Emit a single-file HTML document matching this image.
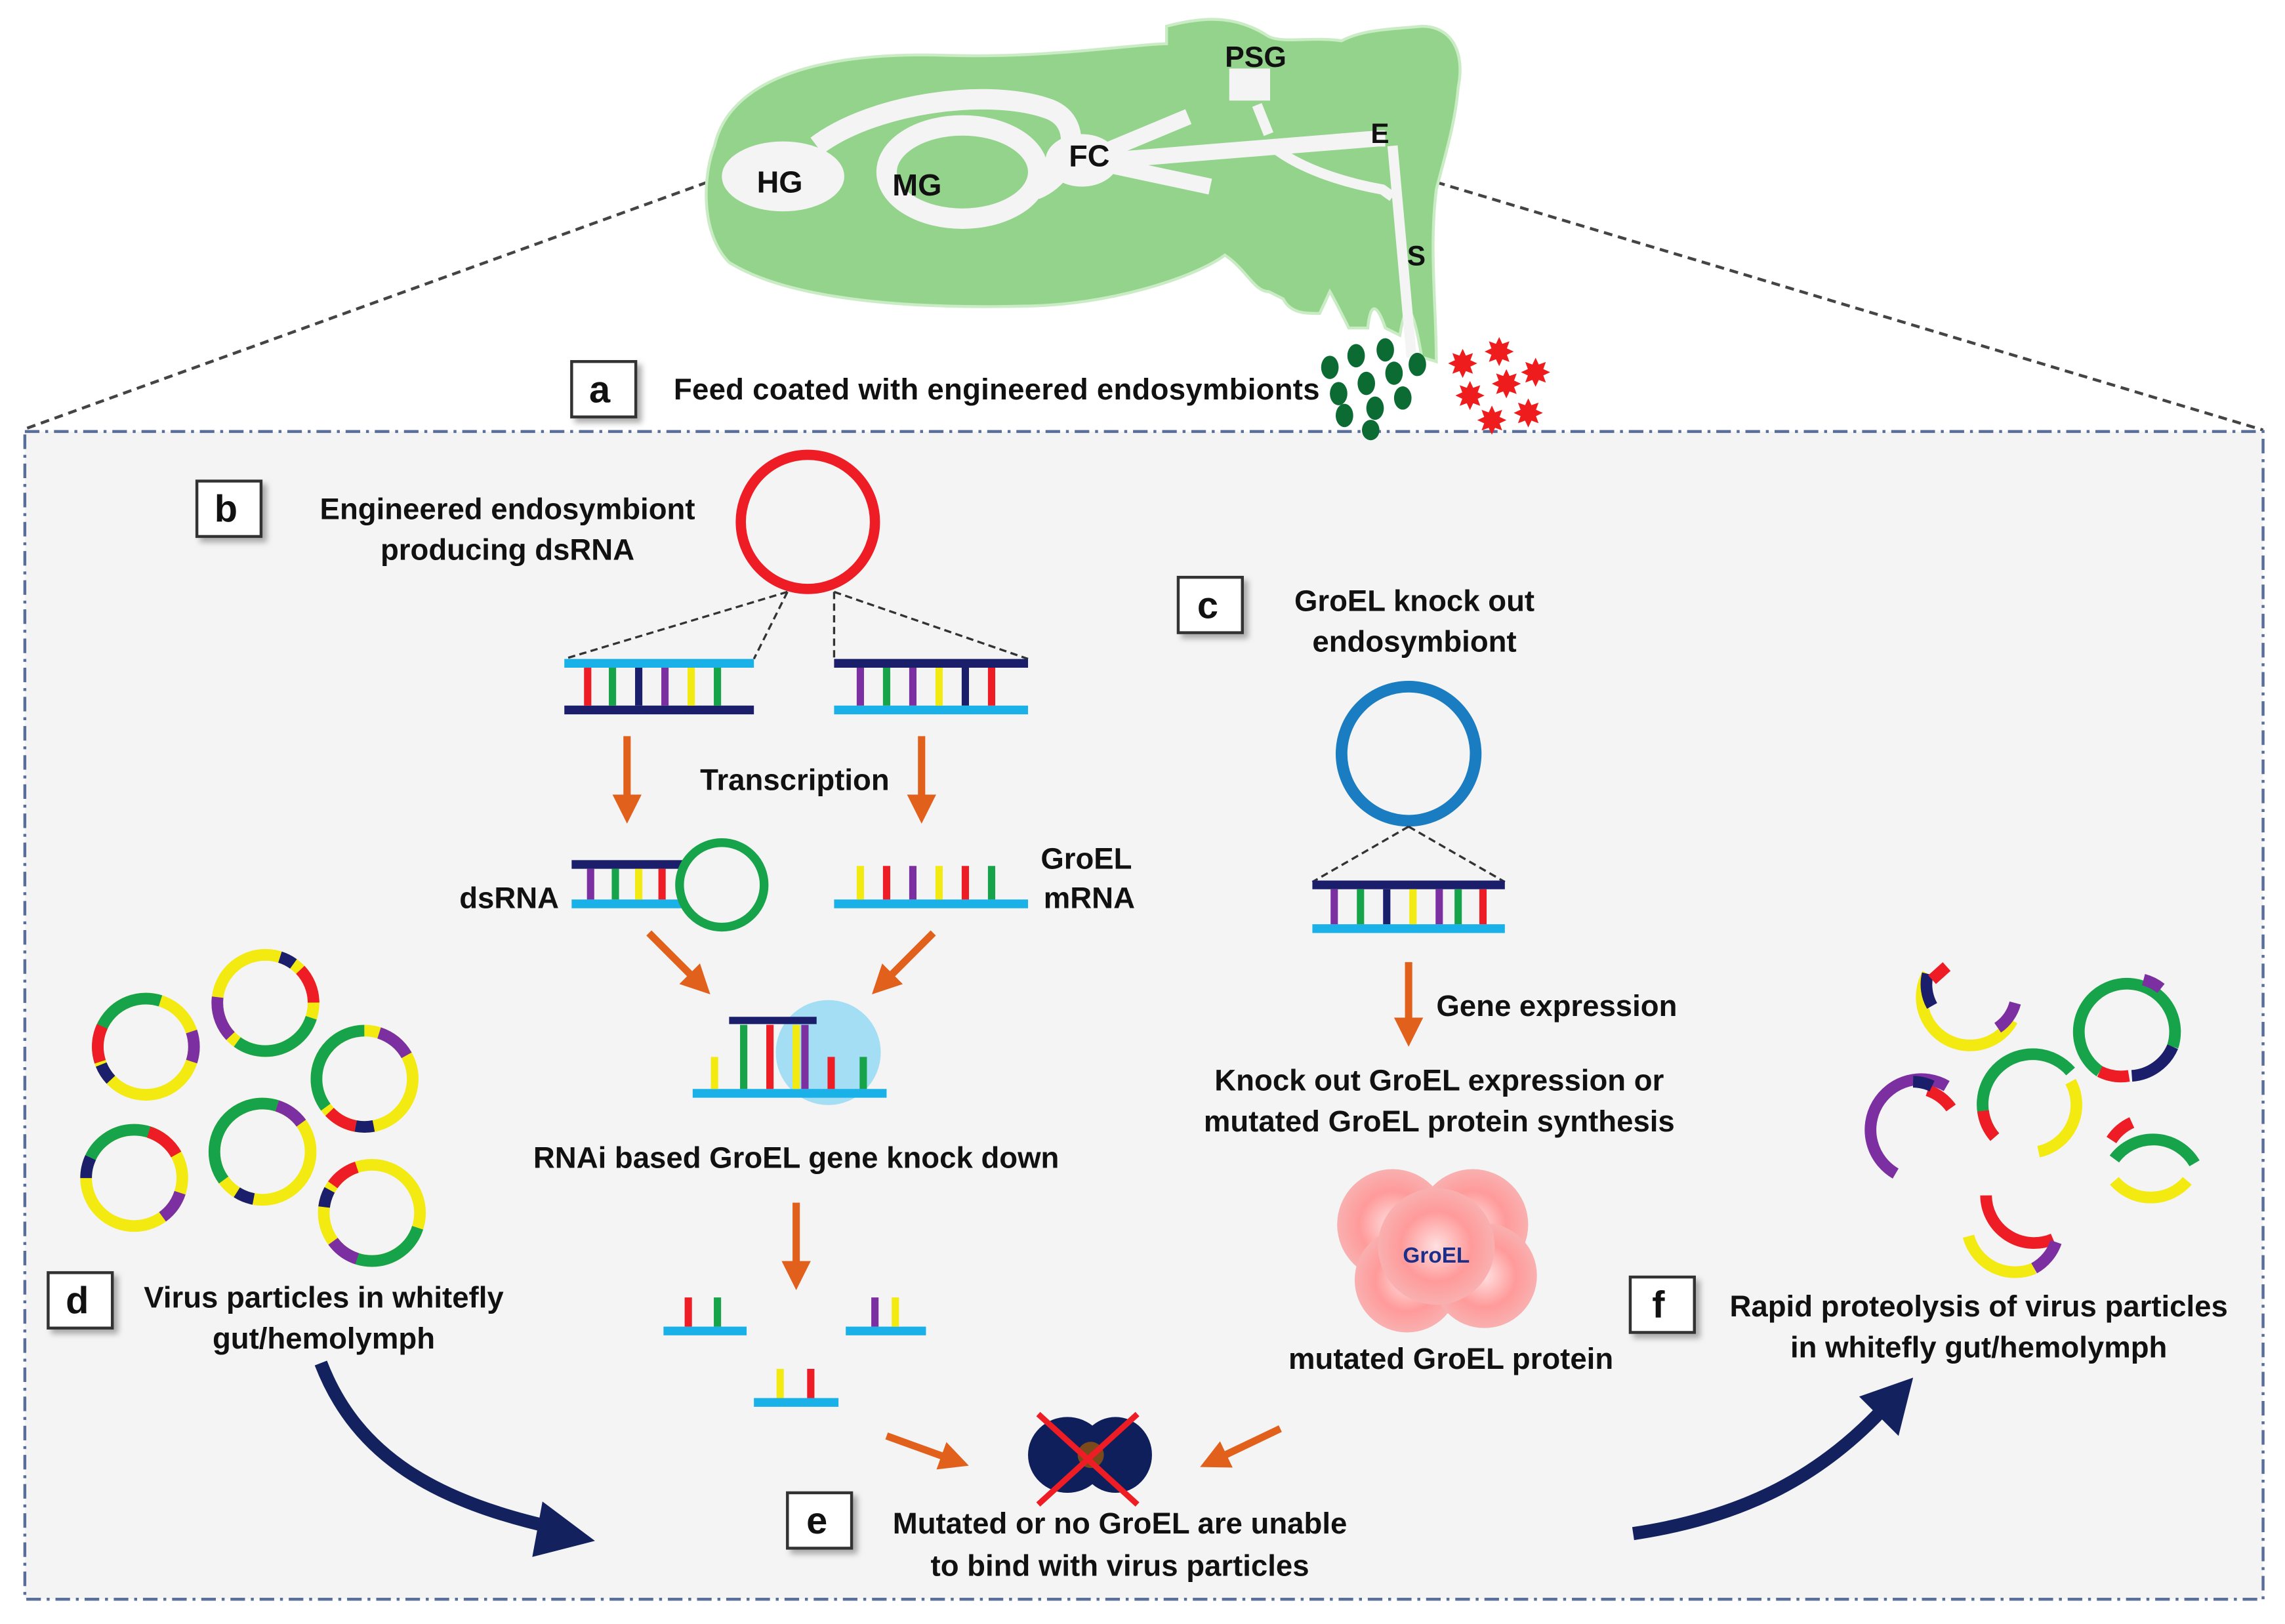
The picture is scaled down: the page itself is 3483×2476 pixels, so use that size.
<!DOCTYPE html>
<html><head><meta charset="utf-8"><style>
html,body{margin:0;padding:0;background:#fff}
svg{display:block}
text{font-family:"Liberation Sans",sans-serif;font-weight:bold;fill:#111}
</style></head><body>
<svg width="3483" height="2476" viewBox="0 0 1567 1114" xmlns="http://www.w3.org/2000/svg">
<defs>
<marker id="oa" markerWidth="4" markerHeight="4" refX="2" refY="2" orient="auto" markerUnits="strokeWidth"><path d="M0,0 L4,2 L0,4 z" fill="#e0601c"/></marker>
<filter id="sh" x="-20%" y="-20%" width="150%" height="150%"><feDropShadow dx="3" dy="3" stdDeviation="2" flood-color="#888" flood-opacity="0.7"/></filter>
<radialGradient id="pk" cx="50%" cy="50%" r="50%"><stop offset="0" stop-color="#ffe0e0"/><stop offset="0.6" stop-color="#ff9a9a"/><stop offset="1" stop-color="#f9b0b0"/></radialGradient>
</defs>
<rect width="1567" height="1114" fill="#fff"/>
<line x1="485" y1="125" x2="15" y2="295" stroke="#444" stroke-width="2" stroke-dasharray="6 4"/>
<line x1="985" y1="125" x2="1552" y2="295" stroke="#444" stroke-width="2" stroke-dasharray="6 4"/>
<rect x="17" y="296" width="1535" height="801" fill="#f4f4f4" stroke="#5a6e9a" stroke-width="2" stroke-dasharray="10 4 2 4"/>
<g>
<path d="M490,100 C500,55 560,35 650,38 C720,40 780,30 800,30 L800,18 C830,10 850,12 870,25 C880,30 900,25 920,28 C935,20 955,20 975,18 C995,18 1005,35 1000,60 C998,85 990,110 985,130 C980,170 985,210 985,248 L975,245 C970,215 965,200 960,230 L950,225 C945,210 940,205 938,225 L925,225 C920,215 915,205 912,200 L905,215 C895,215 885,215 880,205 L870,200 C860,200 855,185 840,175 C820,190 760,210 700,210 C620,212 540,205 500,180 C480,160 482,120 490,100 Z" fill="#93d38b" stroke="#c9ecc4" stroke-width="2"/>
<ellipse cx="537" cy="121" rx="42" ry="24" fill="#f4f4f4"/>
<path d="M560,100 C600,70 680,60 720,75 C745,85 735,120 710,130" fill="none" stroke="#f4f4f4" stroke-width="14"/>
<ellipse cx="660" cy="118" rx="52" ry="32" fill="none" stroke="#f4f4f4" stroke-width="14"/>
<ellipse cx="742" cy="110" rx="25" ry="18" fill="#f4f4f4"/>
<path d="M755,105 L815,80 M755,112 L830,128 M760,110 C820,105 880,100 945,95 L950,95" fill="none" stroke="#f4f4f4" stroke-width="11"/>
<path d="M872,100 C890,115 920,125 948,130 L955,135 M862,72 L870,92 M955,100 L968,245" fill="none" stroke="#f4f4f4" stroke-width="7"/>
<rect x="843" y="47" width="28" height="22" fill="#f4f4f4"/>
<text x="519" y="132" font-size="21">HG</text>
<text x="612" y="134" font-size="21">MG</text>
<text x="733" y="114" font-size="21">FC</text>
<text x="840" y="46" font-size="20">PSG</text>
<text x="940" y="98" font-size="19">E</text>
<text x="965" y="182" font-size="19">S</text>
</g>
<g fill="#0c6b33">
<ellipse cx="912" cy="252" rx="6" ry="8"/><ellipse cx="930" cy="244" rx="6" ry="8"/><ellipse cx="950" cy="240" rx="6" ry="8"/>
<ellipse cx="918" cy="270" rx="6" ry="8"/><ellipse cx="937" cy="263" rx="6" ry="8"/><ellipse cx="956" cy="256" rx="6" ry="8"/><ellipse cx="972" cy="250" rx="6" ry="8"/>
<ellipse cx="922" cy="285" rx="6" ry="8"/><ellipse cx="943" cy="280" rx="6" ry="8"/><ellipse cx="962" cy="273" rx="6" ry="8"/>
<ellipse cx="940" cy="295" rx="6" ry="7"/>
</g>
<g font-size="24">
<text x="993" y="258" style="fill:#ee1c1c">✸</text><text x="1018" y="250" style="fill:#ee1c1c">✸</text>
<text x="998" y="280" style="fill:#ee1c1c">✸</text><text x="1023" y="272" style="fill:#ee1c1c">✸</text><text x="1043" y="264" style="fill:#ee1c1c">✸</text>
<text x="1013" y="297" style="fill:#ee1c1c">✸</text><text x="1038" y="292" style="fill:#ee1c1c">✸</text>
</g>
<g font-size="26">
<rect x="392" y="248" width="44" height="38" fill="#fff" stroke="#333" stroke-width="2" filter="url(#sh)"/><text x="404" y="276">a</text>
<rect x="135" y="330" width="44" height="38" fill="#fff" stroke="#333" stroke-width="2" filter="url(#sh)"/><text x="147" y="358">b</text>
<rect x="808" y="396" width="44" height="38" fill="#fff" stroke="#333" stroke-width="2" filter="url(#sh)"/><text x="821" y="424">c</text>
<rect x="33" y="873" width="44" height="38" fill="#fff" stroke="#333" stroke-width="2" filter="url(#sh)"/><text x="45" y="901">d</text>
<rect x="540" y="1024" width="44" height="38" fill="#fff" stroke="#333" stroke-width="2" filter="url(#sh)"/><text x="553" y="1052">e</text>
<rect x="1118" y="876" width="44" height="38" fill="#fff" stroke="#333" stroke-width="2" filter="url(#sh)"/><text x="1133" y="904">f</text>
</g>
<g font-size="20.5">
<text x="462" y="274" textLength="443">Feed coated with engineered endosymbionts</text>
<text x="348" y="356" text-anchor="middle">Engineered endosymbiont</text>
<text x="348" y="384" text-anchor="middle">producing dsRNA</text>
<text x="545" y="542" text-anchor="middle">Transcription</text>
<text x="315" y="623">dsRNA</text>
<text x="745" y="596" text-anchor="middle">GroEL</text>
<text x="747" y="623" text-anchor="middle">mRNA</text>
<text x="546" y="801" text-anchor="middle">RNAi based GroEL gene knock down</text>
<text x="970" y="419" text-anchor="middle">GroEL knock out</text>
<text x="970" y="447" text-anchor="middle">endosymbiont</text>
<text x="985" y="697">Gene expression</text>
<text x="987" y="748" text-anchor="middle">Knock out GroEL expression or</text>
<text x="987" y="776" text-anchor="middle">mutated GroEL protein synthesis</text>
<text x="995" y="939" text-anchor="middle">mutated GroEL protein</text>
<text x="222" y="897" text-anchor="middle">Virus particles in whitefly</text>
<text x="222" y="925" text-anchor="middle">gut/hemolymph</text>
<text x="768" y="1052" text-anchor="middle">Mutated or no GroEL are unable</text>
<text x="768" y="1081" text-anchor="middle">to bind with virus particles</text>
<text x="1357" y="903" text-anchor="middle">Rapid proteolysis of virus particles</text>
<text x="1357" y="931" text-anchor="middle">in whitefly gut/hemolymph</text>
</g>
<circle cx="554" cy="358" r="46" fill="none" stroke="#ee1c24" stroke-width="7"/>
<path d="M540,406 L387,452 M540,406 L517,452 M572,406 L572,452 M572,406 L705,452" stroke="#333" stroke-width="1.5" stroke-dasharray="5 3" fill="none"/>
<g stroke-width="6">
<line x1="387" y1="455" x2="517" y2="455" stroke="#1ab0e8"/>
<line x1="387" y1="487" x2="517" y2="487" stroke="#1b1f6b"/>
<line x1="572" y1="455" x2="705" y2="455" stroke="#1b1f6b"/>
<line x1="572" y1="487" x2="705" y2="487" stroke="#1ab0e8"/>
</g>
<g stroke-width="5">
<line x1="403" y1="458" x2="403" y2="484" stroke="#ee1c24"/><line x1="420" y1="458" x2="420" y2="484" stroke="#17a34a"/><line x1="438" y1="458" x2="438" y2="484" stroke="#1b1f6b"/><line x1="456" y1="458" x2="456" y2="484" stroke="#7b2fa0"/><line x1="474" y1="458" x2="474" y2="484" stroke="#f2ea10"/><line x1="492" y1="458" x2="492" y2="484" stroke="#17a34a"/>
<line x1="590" y1="458" x2="590" y2="484" stroke="#7b2fa0"/><line x1="608" y1="458" x2="608" y2="484" stroke="#17a34a"/><line x1="626" y1="458" x2="626" y2="484" stroke="#7b2fa0"/><line x1="644" y1="458" x2="644" y2="484" stroke="#f2ea10"/><line x1="662" y1="458" x2="662" y2="484" stroke="#1b1f6b"/><line x1="680" y1="458" x2="680" y2="484" stroke="#ee1c24"/>
</g>
<g stroke="#e0601c" stroke-width="5" marker-end="url(#oa)">
<line x1="430" y1="505" x2="430" y2="555"/>
<line x1="632" y1="505" x2="632" y2="555"/>
<line x1="445" y1="640" x2="480" y2="675"/>
<line x1="640" y1="640" x2="605" y2="675"/>
<line x1="546" y1="825" x2="546" y2="875"/>
<line x1="966" y1="660" x2="966" y2="708"/>
<line x1="608" y1="985" x2="655" y2="1002"/>
<line x1="878" y1="980" x2="832" y2="1002"/>
</g>
<line x1="392" y1="593" x2="470" y2="593" stroke="#1b1f6b" stroke-width="6"/>
<line x1="392" y1="620" x2="470" y2="620" stroke="#1ab0e8" stroke-width="6"/>
<g stroke-width="5"><line x1="405" y1="596" x2="405" y2="617" stroke="#7b2fa0"/><line x1="422" y1="596" x2="422" y2="617" stroke="#17a34a"/><line x1="438" y1="596" x2="438" y2="617" stroke="#f2ea10"/><line x1="454" y1="596" x2="454" y2="617" stroke="#ee1c24"/></g>
<circle cx="495" cy="607" r="29" fill="none" stroke="#17a34a" stroke-width="6"/>
<line x1="572" y1="620" x2="705" y2="620" stroke="#1ab0e8" stroke-width="6"/>
<g stroke-width="5"><line x1="590" y1="594" x2="590" y2="617" stroke="#f2ea10"/><line x1="608" y1="594" x2="608" y2="617" stroke="#ee1c24"/><line x1="626" y1="594" x2="626" y2="617" stroke="#7b2fa0"/><line x1="644" y1="594" x2="644" y2="617" stroke="#f2ea10"/><line x1="662" y1="594" x2="662" y2="617" stroke="#ee1c24"/><line x1="680" y1="594" x2="680" y2="617" stroke="#17a34a"/></g>
<circle cx="568" cy="722" r="36" fill="#8fd8f5" opacity="0.8"/>
<line x1="500" y1="700" x2="560" y2="700" stroke="#1b1f6b" stroke-width="5"/>
<line x1="475" y1="750" x2="608" y2="750" stroke="#1ab0e8" stroke-width="6"/>
<g stroke-width="5"><line x1="490" y1="725" x2="490" y2="747" stroke="#f2ea10"/><line x1="510" y1="703" x2="510" y2="747" stroke="#17a34a"/><line x1="528" y1="703" x2="528" y2="747" stroke="#ee1c24"/><line x1="546" y1="703" x2="546" y2="747" stroke="#f2ea10"/><line x1="552" y1="703" x2="552" y2="747" stroke="#7b2fa0"/><line x1="570" y1="725" x2="570" y2="747" stroke="#ee1c24"/><line x1="592" y1="725" x2="592" y2="747" stroke="#17a34a"/></g>
<g stroke-width="6"><line x1="455" y1="913" x2="512" y2="913" stroke="#1ab0e8"/><line x1="580" y1="913" x2="635" y2="913" stroke="#1ab0e8"/><line x1="517" y1="962" x2="575" y2="962" stroke="#1ab0e8"/></g>
<g stroke-width="5"><line x1="472" y1="890" x2="472" y2="910" stroke="#ee1c24"/><line x1="492" y1="890" x2="492" y2="910" stroke="#17a34a"/><line x1="600" y1="890" x2="600" y2="910" stroke="#7b2fa0"/><line x1="614" y1="890" x2="614" y2="910" stroke="#f2ea10"/><line x1="535" y1="939" x2="535" y2="959" stroke="#f2ea10"/><line x1="556" y1="939" x2="556" y2="959" stroke="#ee1c24"/></g>
<circle cx="966" cy="517" r="46" fill="none" stroke="#1a7cc1" stroke-width="8"/>
<path d="M966,567 L900,605 M966,567 L1032,605" stroke="#333" stroke-width="1.5" stroke-dasharray="5 3" fill="none"/>
<line x1="900" y1="607" x2="1032" y2="607" stroke="#1b1f6b" stroke-width="6"/>
<line x1="900" y1="637" x2="1032" y2="637" stroke="#1ab0e8" stroke-width="6"/>
<g stroke-width="5"><line x1="915" y1="610" x2="915" y2="634" stroke="#7b2fa0"/><line x1="933" y1="610" x2="933" y2="634" stroke="#17a34a"/><line x1="951" y1="610" x2="951" y2="634" stroke="#1b1f6b"/><line x1="969" y1="610" x2="969" y2="634" stroke="#f2ea10"/><line x1="987" y1="610" x2="987" y2="634" stroke="#7b2fa0"/><line x1="1000" y1="610" x2="1000" y2="634" stroke="#17a34a"/><line x1="1017" y1="610" x2="1017" y2="634" stroke="#ee1c24"/></g>
<g fill="url(#pk)">
<circle cx="955" cy="840" r="38"/><circle cx="1010" cy="840" r="38"/><circle cx="965" cy="878" r="36"/><circle cx="1018" cy="875" r="36"/><circle cx="985" cy="855" r="40"/>
</g>
<text x="985" y="866" text-anchor="middle" font-size="15" style="fill:#1b2f8a">GroEL</text>
<ellipse cx="732" cy="998" rx="27" ry="26" fill="#0f1f5c"/>
<ellipse cx="765" cy="998" rx="25" ry="26" fill="#0f1f5c"/>
<circle cx="748" cy="998" r="9" fill="#7a4a1a"/>
<path d="M712,970 L780,1032 M780,970 L712,1032" stroke="#ee1c24" stroke-width="4"/>
<path d="M220,935 C245,1000 300,1030 380,1048" fill="none" stroke="#13225e" stroke-width="9"/>
<path d="M372,1030 L408,1057 L365,1068 Z" fill="#13225e"/>
<path d="M1120,1052 C1200,1040 1250,1010 1290,968" fill="none" stroke="#13225e" stroke-width="9"/>
<path d="M1275,958 L1312,945 L1302,985 Z" fill="#13225e"/>
<g fill="none" stroke-width="8">
<g transform="translate(100,718)"><circle r="33" stroke="#f2ea10"/><circle r="33" stroke="#17a34a" pathLength="100" stroke-dasharray="35 65" stroke-dashoffset="55"/><circle r="33" stroke="#ee1c24" pathLength="100" stroke-dasharray="12 88" stroke-dashoffset="-45"/><circle r="33" stroke="#1b1f6b" pathLength="100" stroke-dasharray="6 94" stroke-dashoffset="-38"/><circle r="33" stroke="#7b2fa0" pathLength="100" stroke-dasharray="10 90" stroke-dashoffset="5"/></g>
<g transform="translate(182,688)"><circle r="33" stroke="#f2ea10"/><circle r="33" stroke="#17a34a" pathLength="100" stroke-dasharray="30 70" stroke-dashoffset="-5"/><circle r="33" stroke="#7b2fa0" pathLength="100" stroke-dasharray="14 86" stroke-dashoffset="-38"/><circle r="33" stroke="#ee1c24" pathLength="100" stroke-dasharray="12 88" stroke-dashoffset="12"/><circle r="33" stroke="#1b1f6b" pathLength="100" stroke-dasharray="5 95" stroke-dashoffset="20"/></g>
<g transform="translate(250,740)"><circle r="33" stroke="#f2ea10"/><circle r="33" stroke="#17a34a" pathLength="100" stroke-dasharray="35 65" stroke-dashoffset="-40"/><circle r="33" stroke="#7b2fa0" pathLength="100" stroke-dasharray="12 88" stroke-dashoffset="20"/><circle r="33" stroke="#ee1c24" pathLength="100" stroke-dasharray="10 90" stroke-dashoffset="-28"/><circle r="33" stroke="#1b1f6b" pathLength="100" stroke-dasharray="6 94" stroke-dashoffset="-22"/></g>
<g transform="translate(92,808)"><circle r="33" stroke="#f2ea10"/><circle r="33" stroke="#17a34a" pathLength="100" stroke-dasharray="30 70" stroke-dashoffset="-55"/><circle r="33" stroke="#ee1c24" pathLength="100" stroke-dasharray="12 88" stroke-dashoffset="-80"/><circle r="33" stroke="#1b1f6b" pathLength="100" stroke-dasharray="7 93" stroke-dashoffset="-50"/><circle r="33" stroke="#7b2fa0" pathLength="100" stroke-dasharray="10 90" stroke-dashoffset="-5"/></g>
<g transform="translate(180,790)"><circle r="33" stroke="#f2ea10"/><circle r="33" stroke="#17a34a" pathLength="100" stroke-dasharray="40 60" stroke-dashoffset="-40"/><circle r="33" stroke="#7b2fa0" pathLength="100" stroke-dasharray="10 90" stroke-dashoffset="-80"/><circle r="33" stroke="#1b1f6b" pathLength="100" stroke-dasharray="6 94" stroke-dashoffset="-28"/></g>
<g transform="translate(255,832)"><circle r="33" stroke="#f2ea10"/><circle r="33" stroke="#17a34a" pathLength="100" stroke-dasharray="30 70" stroke-dashoffset="-5"/><circle r="33" stroke="#ee1c24" pathLength="100" stroke-dasharray="10 90" stroke-dashoffset="-60"/><circle r="33" stroke="#1b1f6b" pathLength="100" stroke-dasharray="6 94" stroke-dashoffset="-52"/><circle r="33" stroke="#7b2fa0" pathLength="100" stroke-dasharray="10 90" stroke-dashoffset="-30"/></g>
</g>
<g fill="none" stroke-width="8">
<path d="M1322,668 A30,30 0 0 0 1380,700" stroke="#f2ea10"/><path d="M1322,668 A30,30 0 0 0 1325,690" stroke="#1b1f6b"/><path d="M1335,663 L1325,672" stroke="#ee1c24"/><path d="M1370,705 A30,30 0 0 0 1382,688" stroke="#7b2fa0"/>
<path d="M1440,735 A33,33 0 1 1 1490,718" stroke="#17a34a"/><path d="M1470,672 A33,33 0 0 1 1482,678" stroke="#7b2fa0"/><path d="M1440,735 A33,33 0 0 0 1460,738" stroke="#ee1c24"/><path d="M1462,738 A33,33 0 0 0 1490,718" stroke="#1b1f6b"/>
<path d="M1335,745 A33,33 0 0 0 1300,805" stroke="#7b2fa0"/><path d="M1322,748 A33,33 0 0 1 1338,760" stroke="#ee1c24"/><path d="M1312,742 A33,33 0 0 1 1325,745" stroke="#1b1f6b"/>
<path d="M1368,780 A33,33 0 1 1 1420,735" stroke="#17a34a"/><path d="M1368,780 A33,33 0 0 1 1360,762" stroke="#ee1c24"/><path d="M1420,742 A33,33 0 0 1 1398,790" stroke="#f2ea10"/>
<path d="M1450,810 A33,33 0 0 0 1500,810" stroke="#f2ea10"/><path d="M1450,795 A33,33 0 0 1 1505,798" stroke="#17a34a"/><path d="M1448,782 A33,33 0 0 1 1462,770" stroke="#ee1c24"/>
<path d="M1362,820 A33,33 0 0 0 1408,850" stroke="#ee1c24"/><path d="M1350,848 A33,33 0 0 0 1395,870" stroke="#f2ea10"/><path d="M1395,870 A33,33 0 0 0 1410,852" stroke="#7b2fa0"/>
</g>
</svg>
</body></html>
